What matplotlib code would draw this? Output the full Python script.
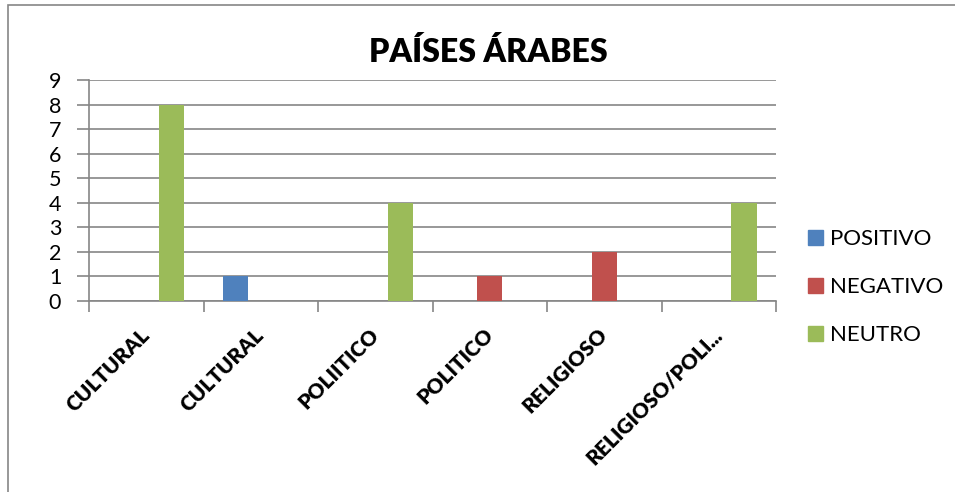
import matplotlib
matplotlib.use('Agg')
import matplotlib.pyplot as plt
import numpy as np
from matplotlib.patches import Rectangle, Patch

plt.rcParams['font.family'] = ['Lato', 'DejaVu Sans']

categories = ['CULTURAL', 'CULTURAL', 'POLIITICO', 'POLITICO', 'RELIGIOSO', 'RELIGIOSO/POLI...']
positivo = [0, 1, 0, 0, 0, 0]
negativo = [0, 0, 0, 1, 2, 0]
neutro = [8, 0, 4, 0, 0, 4]
series_names = ['POSITIVO', 'NEGATIVO', 'NEUTRO']
colors = ['#4F81BD', '#C0504D', '#9BBB59']

W, H = 955, 492
fig = plt.figure(figsize=(W / 100, H / 100), dpi=100)
grey = '#868686'

# outer chart frame (right/bottom edges fall outside the picture)
fig.patches.append(Rectangle((8 / W, -0.1), 2, (H - 5) / H + 0.1, transform=fig.transFigure,
                             fill=False, edgecolor=grey, linewidth=1.2))

ax = fig.add_axes([89 / W, (H - 301) / H, (776 - 89) / W, (301 - 80) / H])

x = np.arange(len(categories))
w = 1 / 4.5
for i, vals in enumerate([positivo, negativo, neutro]):
    ax.bar(x + (i - 1) * w, vals, w, color=colors[i], label=series_names[i], zorder=3)

ax.set_xlim(-0.5, len(categories) - 0.5)
ax.set_ylim(0, 9)
ax.set_yticks(range(10))
ax.yaxis.grid(True, color=grey, linewidth=1.2, zorder=0)
ax.tick_params(axis='y', length=9, color=grey, width=1.2, labelsize=15.5, pad=11)

ax.set_xticks(np.arange(-0.5, len(categories)), labels=[''] * (len(categories) + 1))
ax.set_xticks(x, labels=categories, minor=True)
ax.tick_params(axis='x', which='major', length=8, color=grey, width=1.2)
ax.tick_params(axis='x', which='minor', length=0, pad=22)
for lbl in ax.get_xticklabels(minor=True):
    lbl.set_rotation(45)
    lbl.set_rotation_mode('anchor')
    lbl.set_ha('right')
    lbl.set_va('center')
    lbl.set_fontweight('heavy')
    lbl.set_fontsize(15)

for s in ['top', 'right']:
    ax.spines[s].set_visible(False)
for s in ['left', 'bottom']:
    ax.spines[s].set_color(grey)
    ax.spines[s].set_linewidth(1.2)

fig.text(488 / W, 1 - 52 / H, 'PAÍSES ÁRABES', ha='center', va='center',
         fontsize=23, fontweight='heavy')

handles = [Patch(color=c) for c in colors]
fig.legend(handles, series_names, loc='upper left', bbox_to_anchor=(797 / W, 1 - 218 / H),
           frameon=False, fontsize=16, handlelength=0.68, handleheight=0.68,
           handletextpad=0.3, labelspacing=1.26, borderpad=0)

fig.savefig('out.png', dpi=100)
